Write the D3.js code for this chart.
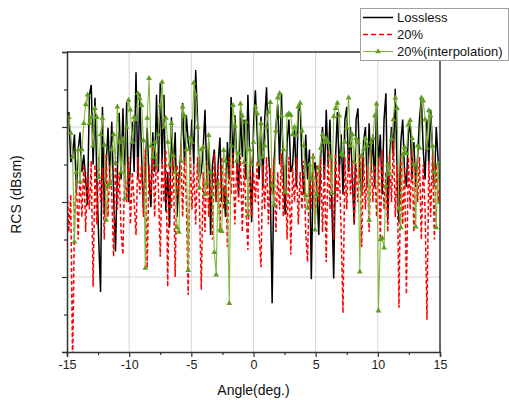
<!DOCTYPE html>
<html>
<head>
<meta charset="utf-8">
<script src="https://cdnjs.cloudflare.com/ajax/libs/d3/7.8.5/d3.min.js"></script>
<style>
  body { margin: 0; background: #fff; }
  svg { display: block; font-family: Arial, "Liberation Sans", sans-serif; }
  .tick-label { font-size: 12.5px; fill: #222; }
  .axis-title { font-size: 14px; fill: #111; }
  .legend-text { font-size: 13px; fill: #111; }
</style>
</head>
<body>
<svg id="chart" width="509" height="400"></svg>
<script>
// angle grid: -15 .. 15 deg, 0.15 deg step
var angleStart = -15, angleStep = 0.15;

var seriesNames = ["Lossless", "20%", "20%(interpolation)"];
var xTicks = [-15, -10, -5, 0, 5, 10, 15];

// RCS values (dBsm)
var lossless = [
  -8.8,-8,-14.7,-13.7,-11,-18.7,-13,-10.7,-16,-13.7,
  -17,-20.4,-5.7,-4.4,-15,-6.1,-17,-25,-32,-7.3,
  -21.7,-15,-10.1,-17,-9.3,-19,-26.6,-16,-8.1,-17,
  -7.5,-18,-6.7,-20,-15,-9.3,-16,-2.7,-17,-5.5,
  -14,-21,-15,-10.1,-17,-20.7,-10.7,-16,-5.7,-16,
  -4.1,-15,-5.7,-21.3,-16,-23.4,-8.7,-16,-10.7,-22,
  -17,-13.7,-6.8,-15,-8.4,-12,-13.7,-9,-15,-2.4,
  -9,-17,-16,-13,-7.7,-17,-12,-24.4,-15,-13,
  -20,-15,-11.4,-20,-18,-22,-12,-17,-6,-15,
  -8.4,-14,-19,-7.8,-14,-9,-17,-5.7,-14,-22.7,
  -10,-5.1,-11,-17,-8.6,-18,-9,-4.7,-13,-18,
  -33.5,-15,-10,-7,-15,-5.5,-16,-21.7,-12,-9,
  -16,-15.1,-10,-18,-8,-6.8,-15,-19,-11,-17,
  -13,-30.3,-16,-14.7,-18,-24.4,-14,-10,-17,-7.7,
  -15,-9,-20,-30.2,-14,-8,-16,-11,-19,-9,
  -7.3,-16,-10,-17,-23,-9,-7.5,-16,-19,-12,
  -10,-18,-9.5,-16,-11,-18,-7,-15,-11,-19,
  -9,-5.5,-22.4,-14,-10,-14,-4.9,-16,-22.7,-12,
  -9,-16,-18,-11,-9.3,-17,-12,-18,-14,-9,
  -6.1,-13,-17,-9,-15,-7.7,-13,-18,-10,-14.4,
  -18
];

var loss20 = [
  -18,-24,-19,-42,-22,-17,-25,-16,-22,-15,
  -24,-16,-21,-14.5,-31.3,-15,-23,-14,-20,-15.5,
  -25,-13.5,-22,-15,-19,-27.3,-14,-21,-16,-24,
  -27,-15,-20,-14,-23,-16,-20,-24.4,-14,-19,
  -15,-22,-13,-28.8,-15,-19,-12.5,-22,-13.5,-18,
  -27.3,-14,-20,-13,-31.3,-14.5,-21,-13.5,-30,-15,
  -19,-12.5,-22,-14,-20,-32.4,-13,-21,-15,-23,
  -14,-20,-31.7,-16,-24,-14.5,-22,-16,-25,-13.5,
  -20,-15,-24,-14,-21,-15.5,-26,-14,-19,-13.5,
  -23,-15,-20,-14,-24,-15,-21,-26.4,-14,-22,
  -16,-20,-14.5,-24,-28.7,-15,-21,-14,-23,-15.5,
  -19,-14,-24,-16,-21,-13.5,-22,-15,-25,-14,
  -27,-15.5,-20,-14,-23,-16,-21,-14.5,-24,-28,
  -15,-21,-13.5,-23,-15,-20,-14,-24,-15,-28,
  -13,-21,-14.5,-25,-13.5,-20,-15,-24,-34.8,-14,
  -21,-13,-19,-14.5,-23,-15,-20,-13.5,-26,-14,
  -21,-15,-24,-13.5,-20,-15,-22,-14,-25,-13,
  -21,-16,-24,-13.5,-20,-11.7,-22,-15,-34.1,-14,
  -23,-15.5,-32.3,-14,-21,-13,-24,-15,-20,-14,
  -25,-15,-21,-35.7,-14.5,-22,-13.5,-25,-15,-20,
  -17
];

var loss20Interp = [
  -9,-8.7,-10.8,-14,-25.3,-16,-13,-17.3,-13,-9.5,
  -7,-5.7,-9.5,-8.7,-12.5,-7.5,-8.7,-16.7,-11,-8.8,
  -12.4,-22.4,-17.8,-17.5,-13,-11,-14.8,-7.3,-12,-16,
  -11.6,-19.5,-10,-6.4,-7.7,-12,-8.7,-9,-5.5,-6.2,
  -7.1,-11.8,-28.8,-8.8,-3.5,-12.5,-14,-12,-15,-11,
  -7.1,-4,-10,-8.8,-12,-15,-9.5,-13.8,-16,-23.4,
  -24,-14.5,-7.3,-8.5,-13,-29.1,-11.5,-12,-4.1,-5.7,
  -10,-18.1,-13,-12.7,-19,-17.5,-11.1,-16,-19,-26.7,
  -29.7,-17.5,-23.7,-23.9,-13.1,-14.5,-20,-33.5,-12.5,-7.1,
  -9.8,-14.5,-13.5,-6.9,-8.5,-14.7,-9.3,-21.7,-13,-15,
  -12,-7.3,-8.2,-15,-9.5,-14,-12.5,-10,-8,-6.7,
  -17.7,-20.4,-10.5,-6.1,-5.5,-8.5,-13,-18.7,-8.4,-8.2,
  -8.4,-11,-10,-11.1,-7.3,-6.8,-10.5,-12.5,-19.1,-20.8,
  -15,-16.9,-14,-23.7,-19,-15.5,-12.8,-11,-12,-11.5,
  -12,-14,-18.8,-8.6,-7.5,-6.8,-8.5,-13.6,-13.8,-12,
  -10.1,-6.1,-12.5,-11,-14.7,-11.5,-12,-29.3,-13.8,-13,
  -11.5,-12.5,-22.4,-12,-11.5,-8.5,-6.9,-34.5,-25,-24.8,
  -26.1,-17.8,-15,-16.3,-11.6,-9,-6.1,-7.5,-20.8,-23.4,
  -13.7,-12.7,-13.5,-9.7,-9.1,-11.5,-15,-23.3,-12.5,-12.8,
  -6.1,-6.5,-9,-12.8,-7.8,-8.5,-12.5,-16,-23.4,-14.9,
  -20
];

function toPoints(vals) {
  return vals.map(function(v, i) { return {a: angleStart + i * angleStep, v: v}; });
}

var svg = d3.select("#chart");
var margin = {left: 67, right: 69, top: 52, bottom: 48};
var W = 509, H = 400;

var x = d3.scaleLinear().domain([-15, 15]).range([margin.left, W - margin.right]);
var y = d3.scaleLinear().domain([-40, 0]).range([H - margin.bottom, margin.top]);

svg.append("defs").append("clipPath").attr("id", "plot-clip")
  .append("rect")
  .attr("x", x(-15)).attr("y", y(0))
  .attr("width", x(15) - x(-15)).attr("height", y(-40) - y(0));

// grid
var grid = svg.append("g").attr("stroke", "#d4d4d4").attr("stroke-width", 1);
[-10, -5, 0, 5, 10].forEach(function(t) {
  grid.append("line").attr("x1", x(t)).attr("x2", x(t)).attr("y1", y(0)).attr("y2", y(-40));
});
[-30, -20, -10].forEach(function(t) {
  grid.append("line").attr("x1", x(-15)).attr("x2", x(15)).attr("y1", y(t)).attr("y2", y(t));
});

var line = d3.line().x(function(d) { return x(d.a); }).y(function(d) { return y(d.v); });

var plot = svg.append("g").attr("clip-path", "url(#plot-clip)");

plot.append("path").datum(toPoints(lossless))
  .attr("fill", "none").attr("stroke", "#000").attr("stroke-width", 1.5)
  .attr("d", line);

plot.append("path").datum(toPoints(loss20))
  .attr("fill", "none").attr("stroke", "#ff0000").attr("stroke-width", 1.5)
  .attr("stroke-dasharray", "4,2.5")
  .attr("d", line);

var greenPts = toPoints(loss20Interp);
plot.append("path").datum(greenPts)
  .attr("fill", "none").attr("stroke", "#7fb83a").attr("stroke-width", 1.1)
  .attr("d", line);

var tri = d3.symbol().type(d3.symbolTriangle).size(14);
plot.selectAll(".mk").data(greenPts).enter().append("path")
  .attr("class", "mk")
  .attr("d", tri)
  .attr("fill", "#5f9e1e")
  .attr("transform", function(d) { return "translate(" + x(d.a) + "," + y(d.v) + ")"; });

// axes
var xAxis = svg.append("g").attr("transform", "translate(0," + y(-40) + ")")
  .call(d3.axisBottom(x).tickValues(xTicks).tickSize(5).tickPadding(3)
    .tickFormat(function(d) { return String(d); }));
svg.append("g").attr("transform", "translate(0," + y(-40) + ")")
  .call(d3.axisBottom(x).tickValues(d3.range(-12.5, 15, 5)).tickSize(3).tickFormat(""))
  .select(".domain").remove();
xAxis.selectAll("text").attr("class", "tick-label").attr("font-size", null).attr("font-family", null);

svg.append("g").attr("transform", "translate(" + x(-15) + ",0)")
  .call(d3.axisLeft(y).tickValues([-40, -30, -20, -10, 0]).tickSize(5).tickFormat(""));
svg.append("g").attr("transform", "translate(" + x(-15) + ",0)")
  .call(d3.axisLeft(y).tickValues([-35, -25, -15, -5]).tickSize(3).tickFormat(""))
  .select(".domain").remove();

svg.selectAll(".domain").attr("stroke", "#333").attr("stroke-width", 1.5);
svg.selectAll(".tick line").attr("stroke", "#333").attr("stroke-width", 1.2);

// frame top / right
svg.append("line").attr("x1", x(-15)).attr("x2", x(15)).attr("y1", y(0)).attr("y2", y(0))
  .attr("stroke", "#333").attr("stroke-width", 1.5);
svg.append("line").attr("x1", x(15)).attr("x2", x(15)).attr("y1", y(0)).attr("y2", y(-40))
  .attr("stroke", "#333").attr("stroke-width", 1.5);

// titles
svg.append("text").attr("class", "axis-title")
  .attr("x", (x(-15) + x(15)) / 2).attr("y", 395)
  .attr("text-anchor", "middle").text("Angle(deg.)");
svg.append("text").attr("class", "axis-title")
  .attr("transform", "translate(21," + y(-19) + ") rotate(-90)")
  .attr("text-anchor", "middle").text("RCS (dBsm)");

// legend
var lg = svg.append("g");
lg.append("rect").attr("x", 360.5).attr("y", 8.5).attr("width", 148).attr("height", 52)
  .attr("fill", "#fff").attr("stroke", "#a0a0a0").attr("stroke-width", 1);
var rows = [
  {name: seriesNames[0], color: "#000", dash: null, w: 1.5, mark: false},
  {name: seriesNames[1], color: "#ff0000", dash: "5,3", w: 1.5, mark: false},
  {name: seriesNames[2], color: "#7fb83a", dash: null, w: 1.1, mark: true}
];
rows.forEach(function(r, i) {
  var yy = 17.5 + i * 17;
  lg.append("line").attr("x1", 363).attr("x2", 393).attr("y1", yy).attr("y2", yy)
    .attr("stroke", r.color).attr("stroke-width", r.w)
    .attr("stroke-dasharray", r.dash);
  if (r.mark) {
    lg.append("path").attr("d", tri).attr("fill", "#5f9e1e")
      .attr("transform", "translate(378," + yy + ")");
  }
  lg.append("text").attr("class", "legend-text").attr("x", 397).attr("y", yy + 4.5).text(r.name);
});
</script>
</body>
</html>
